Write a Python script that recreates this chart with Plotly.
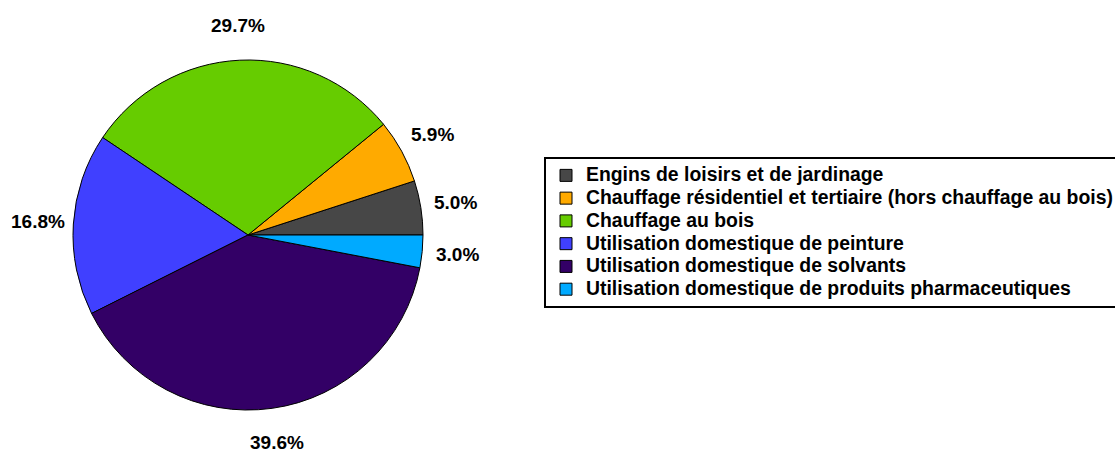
import math
import plotly.graph_objects as go

labels = [
    "Engins de loisirs et de jardinage",
    "Chauffage résidentiel et tertiaire (hors chauffage au bois)",
    "Chauffage au bois",
    "Utilisation domestique de peinture",
    "Utilisation domestique de solvants",
    "Utilisation domestique de produits pharmaceutiques",
]
values = [5.0, 5.9, 29.7, 16.8, 39.6, 3.0]
colors = ["#474747", "#FFAA00", "#66CC00", "#4040FF", "#330066", "#00AAFF"]

W, H = 1115, 452
cx, cy, r = 248, 235, 175  # pixel centre / radius of pie
font_family = "Liberation Sans, Arial, sans-serif"

total = sum(values)
# first slice starts at 3 o'clock and slices run counterclockwise
rotation = 90 - 360 * values[0] / total

legend_labels = [f'<span style="font-size:19.4px">{l}</span>' for l in labels]

fig = go.Figure(
    go.Pie(
        labels=legend_labels,
        values=values,
        marker=dict(colors=colors, line=dict(color="black", width=1)),
        sort=False,
        direction="counterclockwise",
        rotation=rotation,
        textinfo="none",
        hoverinfo="percent",
        domain=dict(x=[(cx - r) / W, (cx + r) / W],
                    y=[(H - cy - r) / H, (H - cy + r) / H]),
    )
)

# percentage labels placed outside each slice, from the data
cum = 0.0
R = r * 1.2
for v in values:
    mid = (cum + v / 2) / total * 2 * math.pi
    cum += v
    px = cx + R * math.cos(mid)
    py = cy - R * math.sin(mid)
    fig.add_annotation(
        x=px / W, y=(H - py) / H, xref="paper", yref="paper",
        text=f"<b>{v / total * 100:.1f}%</b>", showarrow=False,
        xanchor="center", yanchor="middle",
        font=dict(family=font_family, size=19, color="black"),
    )

fig.update_layout(
    width=W, height=H,
    margin=dict(l=0, r=0, t=0, b=0, autoexpand=False),
    paper_bgcolor="white", plot_bgcolor="white",
    showlegend=True,
    legend=dict(
        x=544 / W, y=(H - 157) / H, xanchor="left", yanchor="top",
        bordercolor="black", borderwidth=2, bgcolor="white",
        font=dict(family=font_family, size=15.2, color="black", weight="bold"),
        traceorder="normal",
    ),
)

fig.write_html("out.html", config={"displayModeBar": False},
               post_script="document.body.style.margin='0';")
